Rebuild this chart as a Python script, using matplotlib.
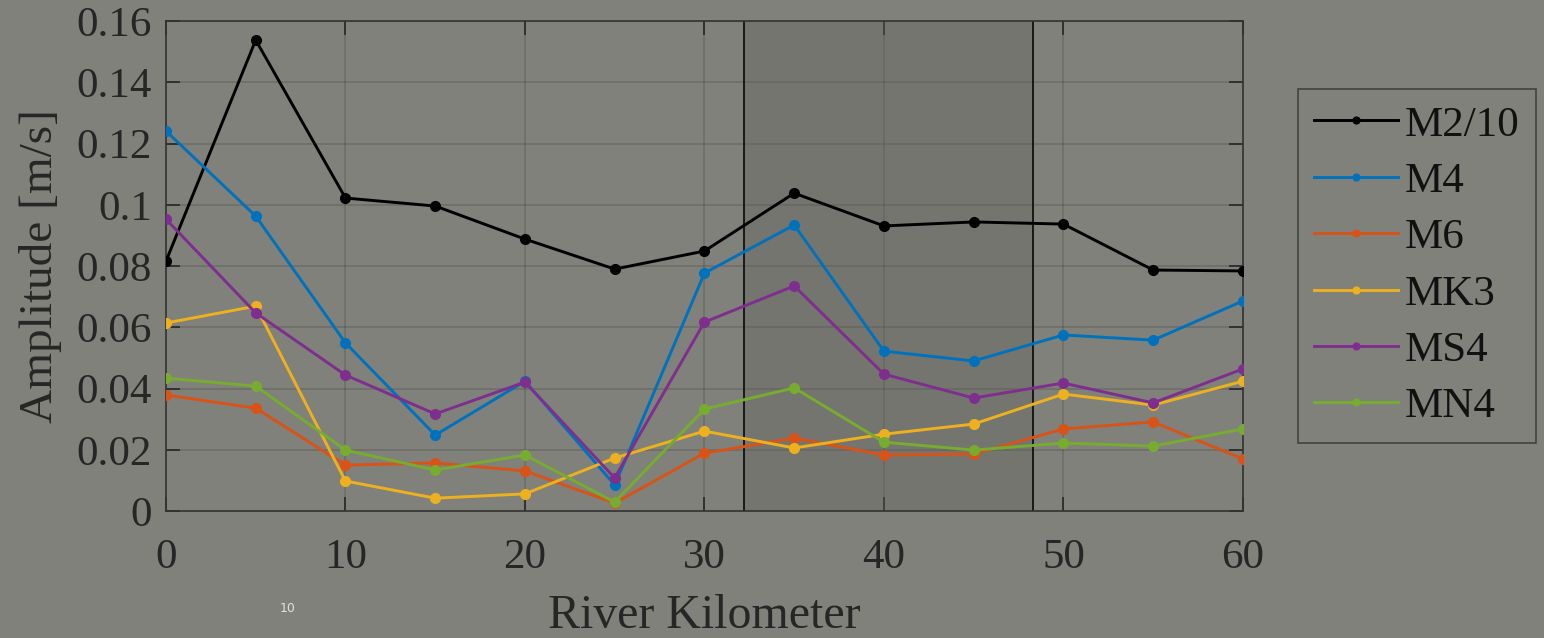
import numpy as np
import matplotlib
matplotlib.use("Agg")
import matplotlib.pyplot as plt
from matplotlib.ticker import FuncFormatter

# river kilometre stations and tidal constituent amplitudes (m/s)
km = [0, 5, 10, 15, 20, 25, 30, 35, 40, 45, 50, 55, 60]
m2_10 = [0.0816, 0.1538, 0.1022, 0.0996, 0.0888, 0.0790, 0.0849, 0.1038, 0.0931, 0.0944, 0.0937, 0.0787, 0.0784]
m4 = [0.1241, 0.0963, 0.0549, 0.0248, 0.0424, 0.0085, 0.0777, 0.0934, 0.0522, 0.0490, 0.0575, 0.0558, 0.0686]
m6 = [0.0379, 0.0336, 0.0150, 0.0157, 0.0131, 0.0026, 0.0189, 0.0238, 0.0183, 0.0186, 0.0268, 0.0291, 0.0170]
mk3 = [0.0614, 0.0669, 0.0098, 0.0042, 0.0056, 0.0173, 0.0261, 0.0206, 0.0251, 0.0284, 0.0382, 0.0346, 0.0424]
ms4 = [0.0953, 0.0647, 0.0444, 0.0317, 0.0421, 0.0108, 0.0617, 0.0735, 0.0447, 0.0369, 0.0418, 0.0353, 0.0464]
mn4 = [0.0434, 0.0408, 0.0199, 0.0134, 0.0183, 0.0029, 0.0333, 0.0402, 0.0225, 0.0199, 0.0222, 0.0212, 0.0268]
names = ["M2/10", "M4", "M6", "MK3", "MS4", "MN4"]
span_km = (32.2, 48.3)

series = [m2_10, m4, m6, mk3, ms4, mn4]
colors = ["#000000", "#0072BD", "#D95319", "#EDB120", "#7E2F8E", "#77AC30"]
bg = "#80817a"
txt = "#262626"

plt.rcParams["font.family"] = ["Liberation Serif", "DejaVu Serif"]

fig = plt.figure(figsize=(15.44, 6.38), dpi=100, facecolor=bg)
ax = fig.add_axes([0.1075, 0.199, 0.6975, 0.768], facecolor=bg)

# highlighted reach
ax.axvspan(span_km[0], span_km[1], facecolor="#5f5f58", alpha=0.35,
           edgecolor="none", zorder=1)
ax.axvline(span_km[0], color="#111111", lw=1.3, zorder=1.5)
ax.axvline(span_km[1], color="#111111", lw=1.3, zorder=1.5)

for vals, name, c in zip(series, names, colors):
    ax.plot(km, vals, "-o", color=c, lw=2.1, ms=7, label=name, zorder=3)

ax.set_xlim(0, 60)
ax.set_ylim(0, 0.16)
ax.set_xticks(np.arange(0, 61, 10))
ax.set_yticks(np.arange(0, 0.161, 0.02))
ax.yaxis.set_major_formatter(FuncFormatter(lambda v, p: "%g" % round(v, 3)))
ax.grid(True, color="#262626", alpha=0.2, lw=1.2)
ax.set_axisbelow(True)
ax.tick_params(direction="in", length=10, width=1.2, colors=txt,
               labelsize=31, top=True, right=True)
ax.tick_params(axis="x", pad=20)
ax.tick_params(axis="y", pad=10)
for s in ax.spines.values():
    s.set_color("#333333")
    s.set_linewidth(1.2)

ax.set_xlabel("River Kilometer", fontsize=34.5, color=txt)
ax.set_ylabel("Amplitude [m/s]", fontsize=34, color=txt)
ax.xaxis.set_label_coords(0.5, -0.17)
ax.yaxis.set_label_coords(-0.097, 0.5)

leg = fig.legend(loc="upper left", bbox_to_anchor=(0.8407, 0.8605),
                 fontsize=31, frameon=True, fancybox=False,
                 borderaxespad=0, handlelength=1.95, labelspacing=0.4,
                 borderpad=0.38, handletextpad=0.15, markerscale=0.7)
leg.get_frame().set_facecolor(bg)
leg.get_frame().set_edgecolor("#333333")
leg.get_frame().set_linewidth(1.2)
for t in leg.get_texts():
    t.set_color("#111111")

fig.text(288 / 1544, 1 - 608 / 638, "10", fontsize=9, color="#e0e0e0",
         family="DejaVu Sans", ha="center", va="center")

fig.savefig("out.png", dpi=100, facecolor=bg)
